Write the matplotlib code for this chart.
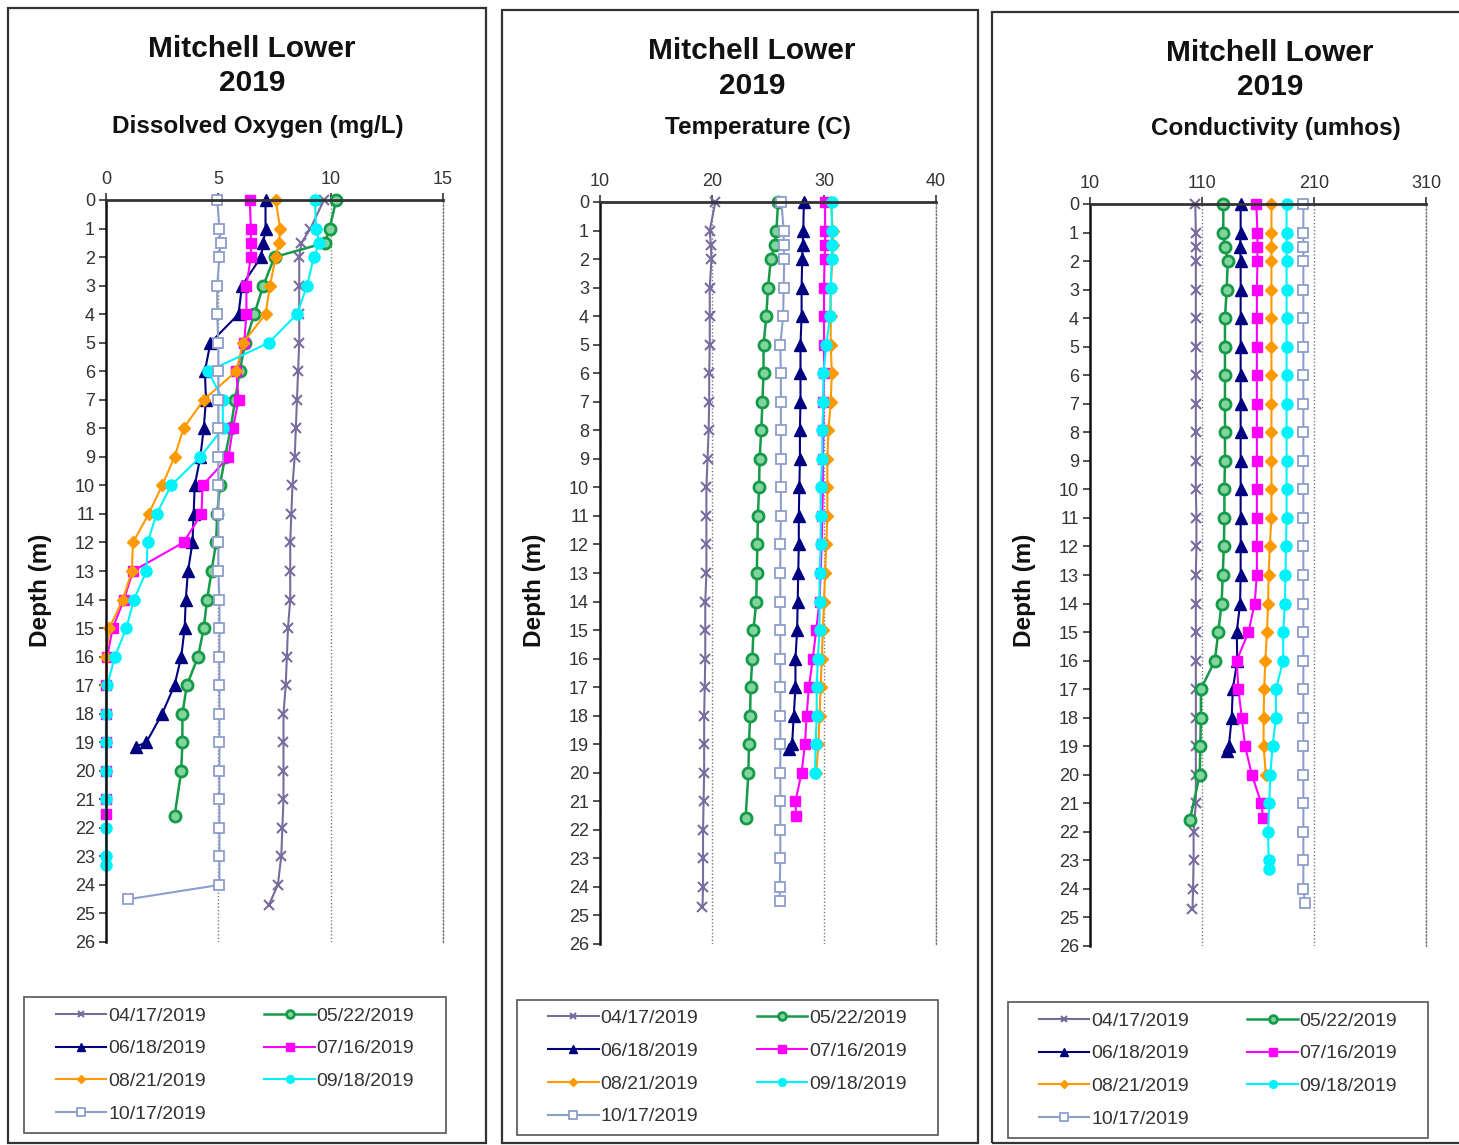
import numpy as np
import matplotlib.pyplot as plt
from matplotlib.patches import Rectangle

plt.rcParams['font.family'] = ['Liberation Sans', 'DejaVu Sans']

# ---- data ----
dates = ['04/17/2019', '05/22/2019', '06/18/2019', '07/16/2019',
         '08/21/2019', '09/18/2019', '10/17/2019']

dep_apr = [0, 1, 1.5, 2, 3, 4, 5, 6, 7, 8, 9, 10, 11, 12, 13, 14, 15, 16, 17,
           18, 19, 20, 21, 22, 23, 24, 24.7]
dep_may = [0, 1, 1.5, 2, 3, 4, 5, 6, 7, 8, 9, 10, 11, 12, 13, 14, 15, 16, 17,
           18, 19, 20, 21.6]
dep_jun = [0, 1, 1.5, 2, 3, 4, 5, 6, 7, 8, 9, 10, 11, 12, 13, 14, 15, 16, 17,
           18, 19, 19.15]
dep_jul = [0, 1, 1.5, 2, 3, 4, 5, 6, 7, 8, 9, 10, 11, 12, 13, 14, 15, 16, 17,
           18, 19, 20, 21, 21.5]
dep_aug = [0, 1, 1.5, 2, 3, 4, 5, 6, 7, 8, 9, 10, 11, 12, 13, 14, 15, 16, 17,
           18, 19, 20]
dep_sep = [0, 1, 1.5, 2, 3, 4, 5, 6, 7, 8, 9, 10, 11, 12, 13, 14, 15, 16, 17,
           18, 19, 20, 21, 22, 23, 23.3]
dep_sep_temp = [0, 1, 1.5, 2, 3, 4, 5, 6, 7, 8, 9, 10, 11, 12, 13, 14, 15, 16,
                17, 18, 19, 20]
dep_oct = [0, 1, 1.5, 2, 3, 4, 5, 6, 7, 8, 9, 10, 11, 12, 13, 14, 15, 16, 17,
           18, 19, 20, 21, 22, 23, 24, 24.5]

# dissolved oxygen (mg/L)
do_apr = [9.7, 9.1, 8.7, 8.6, 8.6, 8.6, 8.6, 8.55, 8.5, 8.45, 8.4, 8.3, 8.25,
          8.2, 8.2, 8.2, 8.1, 8.05, 8.0, 7.9, 7.9, 7.9, 7.9, 7.85, 7.8, 7.65, 7.25]
do_may = [10.25, 9.95, 9.75, 7.5, 7.0, 6.6, 6.2, 5.95, 5.75, 5.55, 5.3, 5.07,
          4.95, 4.9, 4.7, 4.5, 4.35, 4.1, 3.6, 3.4, 3.4, 3.35, 3.05]
do_jun = [7.1, 7.1, 7.0, 6.9, 6.05, 5.9, 4.65, 4.4, 4.45, 4.35, 4.2, 3.95, 3.9,
          3.85, 3.65, 3.55, 3.5, 3.35, 3.05, 2.5, 1.8, 1.35]
do_jul = [6.4, 6.45, 6.45, 6.45, 6.25, 6.25, 6.15, 5.8, 5.9, 5.65, 5.45, 4.3,
          4.25, 3.45, 1.2, 0.8, 0.3, 0.05, 0, 0, 0, 0, 0, 0]
do_aug = [7.55, 7.75, 7.7, 7.55, 7.3, 7.1, 6.1, 5.8, 4.35, 3.45, 3.05, 2.5,
          1.9, 1.2, 1.15, 0.75, 0.15, 0, 0, 0, 0, 0]
do_sep = [9.3, 9.35, 9.5, 9.25, 8.95, 8.5, 7.25, 4.55, 5.2, 5.2, 4.2, 2.9, 2.25,
          1.85, 1.8, 1.25, 0.9, 0.4, 0.05, 0, 0, 0, 0, 0, 0, 0]
do_oct = [4.95, 5.05, 5.1, 5.05, 4.95, 4.95, 5.0, 5.0, 5.0, 5.0, 5.0, 5.0, 5.0,
          5.0, 5.0, 5.05, 5.05, 5.05, 5.05, 5.05, 5.05, 5.05, 5.05, 5.05, 5.05,
          5.05, 1.0]

# temperature (C)
t_apr = [20.3, 19.8, 19.9, 19.95, 19.8, 19.8, 19.8, 19.75, 19.75, 19.7, 19.6,
         19.5, 19.5, 19.5, 19.5, 19.4, 19.4, 19.4, 19.35, 19.3, 19.3, 19.3,
         19.25, 19.2, 19.2, 19.2, 19.15]
t_may = [25.9, 25.75, 25.6, 25.25, 25.0, 24.85, 24.6, 24.6, 24.5, 24.4, 24.25,
         24.2, 24.1, 24.05, 24.0, 23.95, 23.7, 23.6, 23.45, 23.4, 23.3, 23.25, 23.0]
t_jun = [28.2, 28.15, 28.1, 28.05, 28.0, 28.0, 27.9, 27.9, 27.9, 27.85, 27.85,
         27.8, 27.75, 27.75, 27.7, 27.65, 27.6, 27.45, 27.45, 27.3, 27.15, 26.85]
t_jul = [30.1, 30.1, 30.1, 30.05, 30.0, 30.0, 30.0, 30.0, 29.95, 29.95, 29.9,
         29.9, 29.85, 29.8, 29.7, 29.6, 29.3, 29.0, 28.65, 28.45, 28.3, 28.0,
         27.45, 27.5]
t_aug = [30.6, 30.8, 30.8, 30.75, 30.6, 30.6, 30.6, 30.7, 30.6, 30.4, 30.3,
         30.3, 30.3, 30.2, 30.1, 30.0, 29.9, 29.8, 29.7, 29.6, 29.5, 29.3]
t_sep = [30.7, 30.7, 30.7, 30.7, 30.6, 30.55, 30.2, 29.95, 29.95, 29.85, 29.85,
         29.7, 29.7, 29.7, 29.6, 29.6, 29.6, 29.45, 29.35, 29.35, 29.25, 29.2]
t_oct = [26.2, 26.4, 26.4, 26.45, 26.4, 26.35, 26.1, 26.15, 26.15, 26.15, 26.15,
         26.15, 26.15, 26.1, 26.1, 26.1, 26.1, 26.1, 26.1, 26.1, 26.1, 26.1,
         26.1, 26.1, 26.1, 26.05, 26.05]

# conductivity (umhos)
c_apr = [104, 104.5, 104.5, 104.5, 104.5, 104.5, 104.5, 104.5, 104.5, 104.5,
         104.5, 104.5, 105, 105, 104.5, 104.5, 104.5, 104.5, 104.5, 104.5,
         104.5, 104.5, 104.5, 102.5, 102.5, 102, 101.5]
c_may = [129, 129, 130.5, 133, 132, 130.5, 130.5, 130.5, 130.5, 130.5, 130.5,
         130, 130, 129.5, 128.5, 127.5, 124.5, 121.5, 109, 109, 108.5, 108, 99]
c_jun = [144.5, 144.5, 144, 144.5, 144.5, 144.5, 144.5, 144.5, 144.5, 144.5,
         144.5, 144.5, 144.5, 144.5, 144.5, 144, 141, 141.5, 137.5, 136.5, 134, 132]
c_jul = [158.5, 159.5, 159.5, 159.5, 159, 159, 159, 159, 159, 159, 159, 159,
         159, 159, 159, 157, 151.5, 141, 142.5, 145.5, 148.5, 154.5, 163, 164.5]
c_aug = [172, 172, 172, 172, 172, 172, 172, 172, 172, 172, 172, 172, 172,
         170.5, 169.5, 169, 168, 166.5, 165.5, 165, 165, 167]
c_sep = [185.5, 185.5, 185.5, 185.5, 185.5, 185.5, 185.5, 185.5, 185.5, 185.5,
         185.5, 185.5, 185.5, 185, 184.5, 184, 182.5, 182.5, 176, 176, 173, 171,
         170, 169, 169.5, 170]
c_oct = [200.5, 200.5, 200.5, 200.5, 200.5, 200.5, 200.5, 200.5, 200.5, 200.5,
         200.5, 200.5, 200.5, 200.5, 200.5, 200.5, 200.5, 200.5, 200.5, 200.5,
         200.5, 200.5, 200.5, 200.5, 200.5, 200.5, 202]

depth_ticks = list(range(27))

# ---- styles ----
styles = {
    '04/17/2019': dict(color='#786C9E', marker='x', ms=6.5, mew=1.5, lw=1.5),
    '05/22/2019': dict(color='#159A48', marker='o', ms=8, mfc='#82D49E', mew=2, lw=1.8),
    '06/18/2019': dict(color='#000080', marker='^', ms=8, lw=1.5),
    '07/16/2019': dict(color='#FF00FF', marker='s', ms=7.5, lw=1.5),
    '08/21/2019': dict(color='#FF9900', marker='D', ms=6, lw=1.5),
    '09/18/2019': dict(color='#00F2FA', marker='o', ms=8, lw=1.5),
    '10/17/2019': dict(color='#8E9ECB', marker='s', ms=7.5, mfc='white', mew=1.3, lw=1.5),
}

W, H = 1459, 1145
fig = plt.figure(figsize=(W / 100, H / 100), dpi=100)


def fx(px):
    return px / W


def fy(py):
    return 1 - py / H


def panel(frame, box, title_y, cx, subtitle, xmin, xmax, step, series, leg_box, ylab_x):
    x0, y0, x1, y1 = frame
    fig.patches.append(Rectangle((fx(x0), fy(y1)), fx(x1 - x0), (y1 - y0) / H,
                                 transform=fig.transFigure, fill=False,
                                 edgecolor='#333333', lw=1.6))
    fig.text(fx(cx), fy(title_y[0]), 'Mitchell Lower', ha='center', va='center',
             fontsize=21.5, fontweight='bold', color='#111111')
    fig.text(fx(cx), fy(title_y[1]), '2019', ha='center', va='center',
             fontsize=21.5, fontweight='bold', color='#111111')
    fig.text(fx(cx + 6), fy(title_y[2]), subtitle, ha='center', va='center',
             fontsize=17.5, fontweight='bold', color='#111111')
    fig.text(fx(ylab_x), fy(590), 'Depth (m)', rotation=90, ha='center',
             va='center', fontsize=17.5, fontweight='bold', color='#111111')

    l, t, r, b = box
    ax = fig.add_axes([fx(l), fy(b), fx(r - l), (b - t) / H])
    handles = {}
    for name, dep, val in series:
        ln, = ax.plot(val, dep, label=name, clip_on=False, **styles[name])
        handles[name] = ln
    ax.set_xlim(xmin, xmax)
    ax.set_ylim(26, 0)
    ax.xaxis.tick_top()
    ax.set_xticks(np.arange(xmin, xmax + 1, step))
    ax.set_yticks(depth_ticks)
    ax.tick_params(axis='both', labelsize=13, colors='#333333', length=5,
                   width=1.2, direction='out', pad=3)
    ax.tick_params(axis='x', pad=4)
    ax.grid(axis='x', ls=(0, (1, 1.5)), color='#777777', lw=1)
    ax.spines['top'].set_linewidth(2)
    ax.spines['top'].set_color('#333333')
    ax.spines['left'].set_linewidth(1.8)
    ax.spines['left'].set_color('#111111')
    ax.spines['right'].set_linestyle((0, (1, 1.5)))
    ax.spines['right'].set_color('#777777')
    ax.spines['right'].set_linewidth(1)
    ax.spines['bottom'].set_visible(False)
    ax.set_axisbelow(True)

    # legend filled row by row, as in the reference
    order = ['04/17/2019', '06/18/2019', '08/21/2019', '10/17/2019',
             '05/22/2019', '07/16/2019', '09/18/2019']
    lx0, ly0, lx1, ly1 = leg_box
    leg = ax.legend([handles[k] for k in order], order, ncol=2,
                    loc='center',
                    bbox_to_anchor=(fx(lx0), fy(ly1), fx(lx1 - lx0), (ly1 - ly0) / H),
                    bbox_transform=fig.transFigure, fontsize=14,
                    frameon=False, borderpad=0.45, labelspacing=0.78,
                    handlelength=2.6, handletextpad=0.1, columnspacing=3.0,
                    borderaxespad=0, markerscale=0.7)
    for txt in leg.get_texts():
        txt.set_color('#333333')
    # legend frame at the reference size
    fig.patches.append(Rectangle((fx(lx0), fy(ly1)), fx(lx1 - lx0), (ly1 - ly0) / H,
                                 transform=fig.transFigure, fill=False,
                                 edgecolor='#555555', lw=1.2))
    return ax


panel((8, 8, 486, 1143), (106, 200, 443, 942), (49, 83, 126), 252,
      'Dissolved Oxygen (mg/L)', 0, 15, 5,
      [(dates[0], dep_apr, do_apr), (dates[1], dep_may, do_may),
       (dates[2], dep_jun, do_jun), (dates[3], dep_jul, do_jul),
       (dates[4], dep_aug, do_aug), (dates[5], dep_sep, do_sep),
       (dates[6], dep_oct, do_oct)],
      (24, 997, 446, 1133), 40)

panel((502, 10, 978, 1143), (600, 202, 936, 944), (51, 86, 127), 752,
      'Temperature (C)', 10, 40, 10,
      [(dates[0], dep_apr, t_apr), (dates[1], dep_may, t_may),
       (dates[2], dep_jun, t_jun), (dates[3], dep_jul, t_jul),
       (dates[4], dep_aug, t_aug), (dates[5], dep_sep_temp, t_sep),
       (dates[6], dep_oct, t_oct)],
      (517, 1000, 938, 1135), 535)

panel((992, 12, 1465, 1143), (1090, 204, 1426, 946), (53, 87, 129), 1270,
      'Conductivity (umhos)', 10, 310, 100,
      [(dates[0], dep_apr, c_apr), (dates[1], dep_may, c_may),
       (dates[2], dep_jun, c_jun), (dates[3], dep_jul, c_jul),
       (dates[4], dep_aug, c_aug), (dates[5], dep_sep, c_sep),
       (dates[6], dep_oct, c_oct)],
      (1008, 1002, 1428, 1138), 1025)

fig.savefig('out.png', dpi=100)
